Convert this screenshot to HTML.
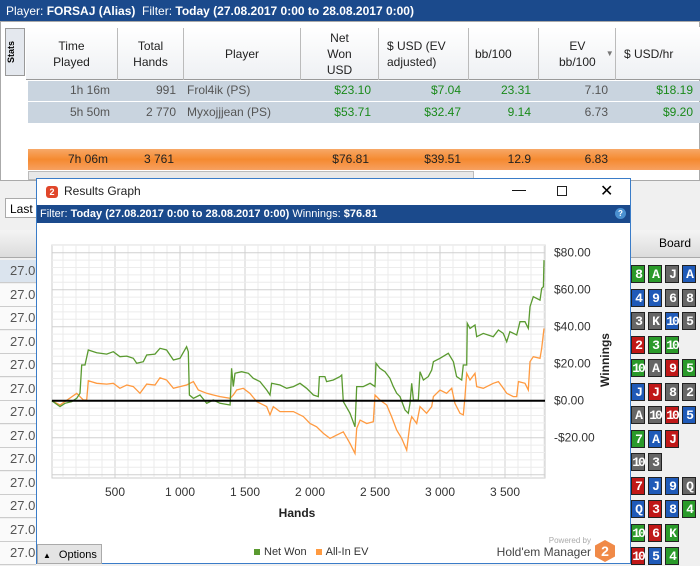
<!DOCTYPE html>
<html><head><meta charset="utf-8"><style>
*{box-sizing:border-box;margin:0;padding:0}
body{width:700px;height:564px;overflow:hidden;background:#f0f0f0;font-family:"Liberation Sans",sans-serif;font-size:12px;position:relative}
.abs{position:absolute}
.hd{position:absolute;top:28px;height:52px;display:flex;align-items:center;justify-content:center;text-align:center;font-size:12px;color:#222;line-height:16px;border-right:1px solid #bbb}
.cell{position:absolute;font-size:12px;text-align:right}
.card{position:absolute;width:14px;height:18px;color:#fff;font-family:"Liberation Mono",monospace;font-size:13px;font-weight:bold;text-align:center;line-height:18px;border:1px solid #222;letter-spacing:-2px}
.g{background:#2a9a2a}.b{background:#1f5ab8}.k{background:#666}.r{background:#c01818}
.lrow{position:absolute;left:0;width:36px;height:23px;border-bottom:1px solid #ccc;color:#555;font-size:13px;padding:3px 0 0 10px;background:#fafafa}
</style></head><body>
<div class="abs" style="left:0;top:0;width:700px;height:21px;background:#1b4a8c;color:#fff;font-size:12px;padding:4px 6px">Player: <b>FORSAJ (Alias)</b> &nbsp;Filter: <b>Today (27.08.2017 0:00 to 28.08.2017 0:00)</b></div>
<div class="abs" style="left:0;top:21px;width:700px;height:160px;background:#fff;border:1px solid #aaa"></div>
<div class="abs" style="left:5px;top:28px;width:20px;height:48px;background:#e4e8ee;border:1px solid #999;font-size:9px;font-weight:bold;writing-mode:vertical-rl;transform:rotate(180deg);text-align:center">Stats</div>
<div class="abs" style="left:26px;top:27px;width:674px;height:53px;background:linear-gradient(#fff,#eef0f3);border-bottom:1px solid #999"></div>
<div class="hd" style="left:26px;width:92px">Time<br>Played</div>
<div class="hd" style="left:118px;width:66px">Total<br>Hands</div>
<div class="hd" style="left:184px;width:117px">Player</div>
<div class="hd" style="left:301px;width:78px">Net<br>Won<br>USD</div>
<div class="hd" style="left:379px;width:90px;justify-content:flex-start;text-align:left;padding-left:8px">$ USD (EV<br>adjusted)</div>
<div class="hd" style="left:469px;width:70px;justify-content:flex-start;padding-left:6px">bb/100</div>
<div class="hd" style="left:539px;width:77px;justify-content:flex-start;padding-left:20px">EV<br>bb/100 <span style="font-size:8px;color:#777;margin-left:10px">▼</span></div>
<div class="hd" style="left:616px;width:84px;justify-content:flex-start;padding-left:8px;border:0">$ USD/hr</div>
<div class="abs" style="left:28px;top:81px;width:672px;height:20px;background:#c9d4df"></div>
<div class="abs" style="left:28px;top:102px;width:672px;height:21px;background:#c9d4df"></div>
<div class="abs" style="left:28px;top:149px;width:672px;height:21px;background:linear-gradient(#f7a868,#f58a30 50%,#f7a060)"></div>
<div style="color:#555">
<div class="cell" style="left:26px;top:83px;width:84px">1h 16m</div>
<div class="cell" style="left:118px;top:83px;width:58px">991</div>
<div class="cell" style="left:187px;top:83px;text-align:left">Frol4ik (PS)</div>
<div class="cell" style="left:26px;top:105px;width:84px">5h 50m</div>
<div class="cell" style="left:118px;top:105px;width:58px">2 770</div>
<div class="cell" style="left:187px;top:105px;text-align:left">Myxojjjean (PS)</div>
<div class="cell" style="left:539px;top:83px;width:69px">7.10</div>
<div class="cell" style="left:539px;top:105px;width:69px">6.73</div>
</div>
<div style="color:#1a8a1a">
<div class="cell" style="left:301px;top:83px;width:70px">$23.10</div>
<div class="cell" style="left:379px;top:83px;width:82px">$7.04</div>
<div class="cell" style="left:469px;top:83px;width:62px">23.31</div>
<div class="cell" style="left:616px;top:83px;width:77px">$18.19</div>
<div class="cell" style="left:301px;top:105px;width:70px">$53.71</div>
<div class="cell" style="left:379px;top:105px;width:82px">$32.47</div>
<div class="cell" style="left:469px;top:105px;width:62px">9.14</div>
<div class="cell" style="left:616px;top:105px;width:77px">$9.20</div>
</div>
<div style="color:#222">
<div class="cell" style="left:26px;top:152px;width:82px">7h 06m</div>
<div class="cell" style="left:118px;top:152px;text-align:left;padding-left:26px;width:80px">3 761</div>
<div class="cell" style="left:301px;top:152px;width:68px">$76.81</div>
<div class="cell" style="left:379px;top:152px;width:82px">$39.51</div>
<div class="cell" style="left:469px;top:152px;width:62px">12.9</div>
<div class="cell" style="left:539px;top:152px;width:69px">6.83</div>
</div>
<div class="abs" style="left:28px;top:171px;width:446px;height:9px;background:#e8e8e8;border:1px solid #bbb"></div>
<div class="abs" style="left:5px;top:198px;width:40px;height:20px;background:#fff;border:1px solid #aaa;padding:3px 4px;font-size:12px">Last</div>
<div class="abs" style="left:0;top:230px;width:700px;height:28px;background:linear-gradient(#f4f4f4,#dcdcdc);border-bottom:1px solid #aaa"></div>
<div class="abs" style="left:659px;top:236px;font-size:12px">Board</div>
<div id="lrows"></div>
<div id="cards"></div>

<div class="abs" style="left:36px;top:178px;width:595px;height:386px;background:#fff;border:1px solid #3a7cc8"></div>
<div class="abs" style="left:46px;top:184px;font-size:12px;color:#222"><span style="display:inline-block;width:12px;height:12px;border-radius:3px;background:#e0462a;color:#fff;font-size:9px;font-weight:bold;text-align:center;line-height:12px;margin-right:6px">2</span>Results Graph</div>
<div class="abs" style="left:512px;top:181px;font-size:14px">&#8212;</div>
<div class="abs" style="left:557px;top:186px;width:10px;height:10px;border:1px solid #222"></div>
<div class="abs" style="left:600px;top:181px;font-size:16px">✕</div>
<div class="abs" style="left:37px;top:205px;width:593px;height:18px;background:#1b4a8c;color:#fff;font-size:11px;padding:3px 3px">Filter: <b>Today (27.08.2017 0:00 to 28.08.2017 0:00)</b> Winnings: <b>$76.81</b></div>
<div class="abs" style="left:615px;top:208px;width:11px;height:11px;border-radius:50%;background:#4a90d0;color:#fff;font-size:8px;text-align:center;line-height:11px;font-weight:bold">?</div>

<svg class="abs" style="left:0;top:0" width="700" height="564">
<g id="grid"></g><g id="series"></g><g id="axes"></g>
</svg>
<div class="abs" style="left:37px;top:544px;width:65px;height:20px;background:#e4e4e4;border:1px solid #aaa;font-size:11px;padding:4px 0 0 5px"><span style="font-size:8px;margin-right:8px">▲</span>Options</div>
<div class="abs" style="left:254px;top:546px;font-size:11px;color:#333"><span style="display:inline-block;width:6px;height:6px;background:#5a9a30;margin-right:4px"></span>Net Won <span style="display:inline-block;width:6px;height:6px;background:#ff9a40;margin:0 4px 0 6px"></span>All-In EV</div>
<div class="abs" style="left:470px;top:536px;font-size:12px;color:#444;text-align:right;width:121px;white-space:nowrap"><div style="font-size:8px;color:#aaa">Powered by</div>Hold'em Manager</div>
<div class="abs" style="left:595px;top:540px;width:20px;height:22px;background:#f08a48;clip-path:polygon(50% 0,100% 25%,100% 75%,50% 100%,0 75%,0 25%);color:#fff;font-weight:bold;text-align:center;font-size:14px;line-height:22px">2</div>

<script>
const handsNet=[13,77,115,167,205,231,244,269,295,359,436,487,538,590,641,667,718,744,808,846,897,949,1000,1051,1064,1072,1103,1154,1205,1256,1308,1385,1397,1410,1423,1474,1526,1564,1615,1667,1692,1705,1769,1821,1872,1923,1974,2026,2064,2072,2115,2128,2179,2231,2244,2256,2308,2346,2359,2410,2462,2500,2508,2538,2577,2615,2641,2667,2692,2731,2756,2769,2782,2795,2833,2846,2872,2910,2936,2949,3000,3064,3103,3128,3167,3179,3205,3210,3231,3269,3282,3333,3410,3449,3487,3513,3538,3590,3615,3654,3679,3692,3718,3769,3782,3795,3800];
const netWon=[0,-3.2,-1.4,-0.5,1.3,4.0,19.3,19.3,27.4,25.9,25.2,26.5,23.8,24.1,22.9,20.2,21.1,24.7,25.2,28.3,27.4,22.0,22.9,29.2,26.5,3.1,1.3,3.1,-1.4,0.4,-1.4,-2.3,17.5,7.6,14.8,15.7,14.8,12.1,10.3,5.8,3.1,9.4,8.5,6.7,7.6,9.4,6.7,3.1,2.2,13.0,13.0,10.3,11.2,13.0,13.9,-0.5,-6.8,-14.1,7.6,7.6,9.4,7.6,20.2,17.5,15.7,12.1,7.6,4.0,2.2,-5.0,-6.8,-1.4,9.4,0.4,0.4,15.7,11.2,13.0,16.6,21.1,22.9,25.6,21.1,13.0,11.2,19.3,19.3,41.8,39.1,40.9,34.6,36.4,34.6,38.2,36.4,31.9,37.3,35.5,42.7,42.7,39.1,50.8,56.2,54.4,60.7,61.6,76.0];
const handsEv=[13,77,205,256,282,295,359,436,487,538,590,641,692,744,808,846,897,949,1000,1051,1103,1141,1205,1256,1308,1385,1410,1436,1487,1538,1590,1667,1692,1718,1769,1872,1949,2000,2051,2103,2154,2205,2256,2308,2346,2359,2385,2436,2487,2500,2538,2590,2628,2667,2705,2744,2769,2782,2821,2846,2897,2936,2949,3000,3051,3090,3115,3154,3179,3192,3205,3231,3269,3282,3333,3410,3449,3487,3513,3564,3590,3603,3654,3679,3692,3718,3769,3782,3800];
const allInEv=[0,-2.3,4.0,0.4,0.4,10.8,9.4,9.0,9.4,6.7,8.5,7.6,4.0,9.0,8.5,12.4,11.2,6.7,7.6,8.5,10.3,5.8,4.0,3.1,2.2,1.3,3.1,5.8,6.7,4.0,-0.5,-3.2,-7.7,-3.2,-5.9,-5.9,-8.6,-12.3,-14.1,-17.7,-20.4,-18.6,-16.8,-23.1,-28.5,-15.0,-10.5,-12.3,-11.4,3.1,0.4,-2.3,-8.6,-15.9,-20.4,-26.7,-12.3,-8.6,-12.3,-3.2,-6.8,-3.2,2.2,5.8,4.0,6.7,-1.4,-6.8,-7.7,2.2,14.8,11.2,14.8,7.6,6.7,9.4,10.3,6.7,4.0,2.2,2.2,10.3,9.4,5.8,21.1,23.8,22.9,28.3,39.1];
const xTicks=[500,1000,1500,2000,2500,3000,3500];
const xTickLabels=["500","1 000","1 500","2 000","2 500","3 000","3 500"];
const yTicks=[80,60,40,20,0,-20];
const yTickLabels=["$80.00","$60.00","$40.00","$20.00","$0.00","-$20.00"];
const X=h=>50+h*0.13, Y=v=>400.7-v*1.85;
const L=52,R=545,T=245,B=478;
const NS='http://www.w3.org/2000/svg';
function mk(p,t,a){const e=document.createElementNS(NS,t);for(const k in a)e.setAttribute(k,a[k]);p.appendChild(e);return e;}
const grid=document.getElementById('grid'),ser=document.getElementById('series'),ax=document.getElementById('axes');
mk(grid,'rect',{x:L,y:T,width:R-L,height:B-T,fill:'#fff',stroke:'#ccc'});
for(let h=100;X(h)<R;h+=100){const l=mk(grid,'line',{x1:X(h),x2:X(h),y1:T,y2:B,stroke:h%500?'#ebebeb':'#d0d0d0','stroke-width':1});

}
for(let v=-40;v<=84;v+=4){if(Y(v)<T||Y(v)>B)continue;const l=mk(grid,'line',{x1:L,x2:R,y1:Y(v),y2:Y(v),stroke:v%20?'#ececec':'#d0d0d0'});

}
function line(hs,vs,c,name){const pts=hs.map((h,i)=>X(h).toFixed(1)+','+Y(vs[i]).toFixed(1)).join(' ');
const p=mk(ser,'polyline',{points:pts,fill:'none',stroke:c,'stroke-width':1.3});

}
line(handsEv,allInEv,'#ff9a40','all-in-ev-line');
line(handsNet,netWon,'#5a9a30','net-won-line');
const z=mk(ax,'line',{x1:L,x2:R,y1:Y(0),y2:Y(0),stroke:'#000','stroke-width':2});


xTicks.forEach((h,i)=>{const t=mk(ax,'text',{x:X(h),y:496,'text-anchor':'middle','font-size':12,fill:'#333','font-family':'Liberation Sans'});t.textContent=xTickLabels[i];

});
yTicks.forEach((v,i)=>{const t=mk(ax,'text',{x:554,y:Y(v)+4,'font-size':12,fill:'#333','font-family':'Liberation Sans'});t.textContent=yTickLabels[i];

});
const xt=mk(ax,'text',{x:297,y:517,'text-anchor':'middle','font-size':12,'font-weight':'bold',fill:'#222','font-family':'Liberation Sans'});xt.textContent='Hands';


const yt=mk(ax,'text',{x:0,y:0,'text-anchor':'middle','font-size':12,'font-weight':'bold',fill:'#222','font-family':'Liberation Sans',transform:'translate(609,360) rotate(-90)'});yt.textContent='Winnings';



const lr=document.getElementById('lrows');
for(let i=0;i<13;i++){const d=document.createElement('div');d.className='lrow';d.style.top=(260+i*23.5)+'px';if(i==0)d.style.background='#dbe4ee';d.textContent='27.0';


lr.appendChild(d);}
const boards=[["8g","Ag","Jk","Ab"],["4b","9b","6k","8k"],["3k","Kk","10b","5k"],["2r","3g","10g"],["10g","Ak","9r","5g"],["Jb","Jr","8k","2k"],["Ak","10k","10r","5b"],["7g","Ab","Jr"],["10k","3k"],["7r","Jb","9b","Qk"],["Qb","3r","8b","4g"],["10g","6r","Kg"],["10r","5b","4g"]];
const cd=document.getElementById('cards');
boards.forEach((b,i)=>b.forEach((c,j)=>{const d=document.createElement('div');d.className='card '+c.slice(-1);d.style.left=(631+j*17)+'px';d.style.top=(265+i*23.5)+'px';d.textContent=c.slice(0,-1);


cd.appendChild(d);}));
</script>
</body></html>
